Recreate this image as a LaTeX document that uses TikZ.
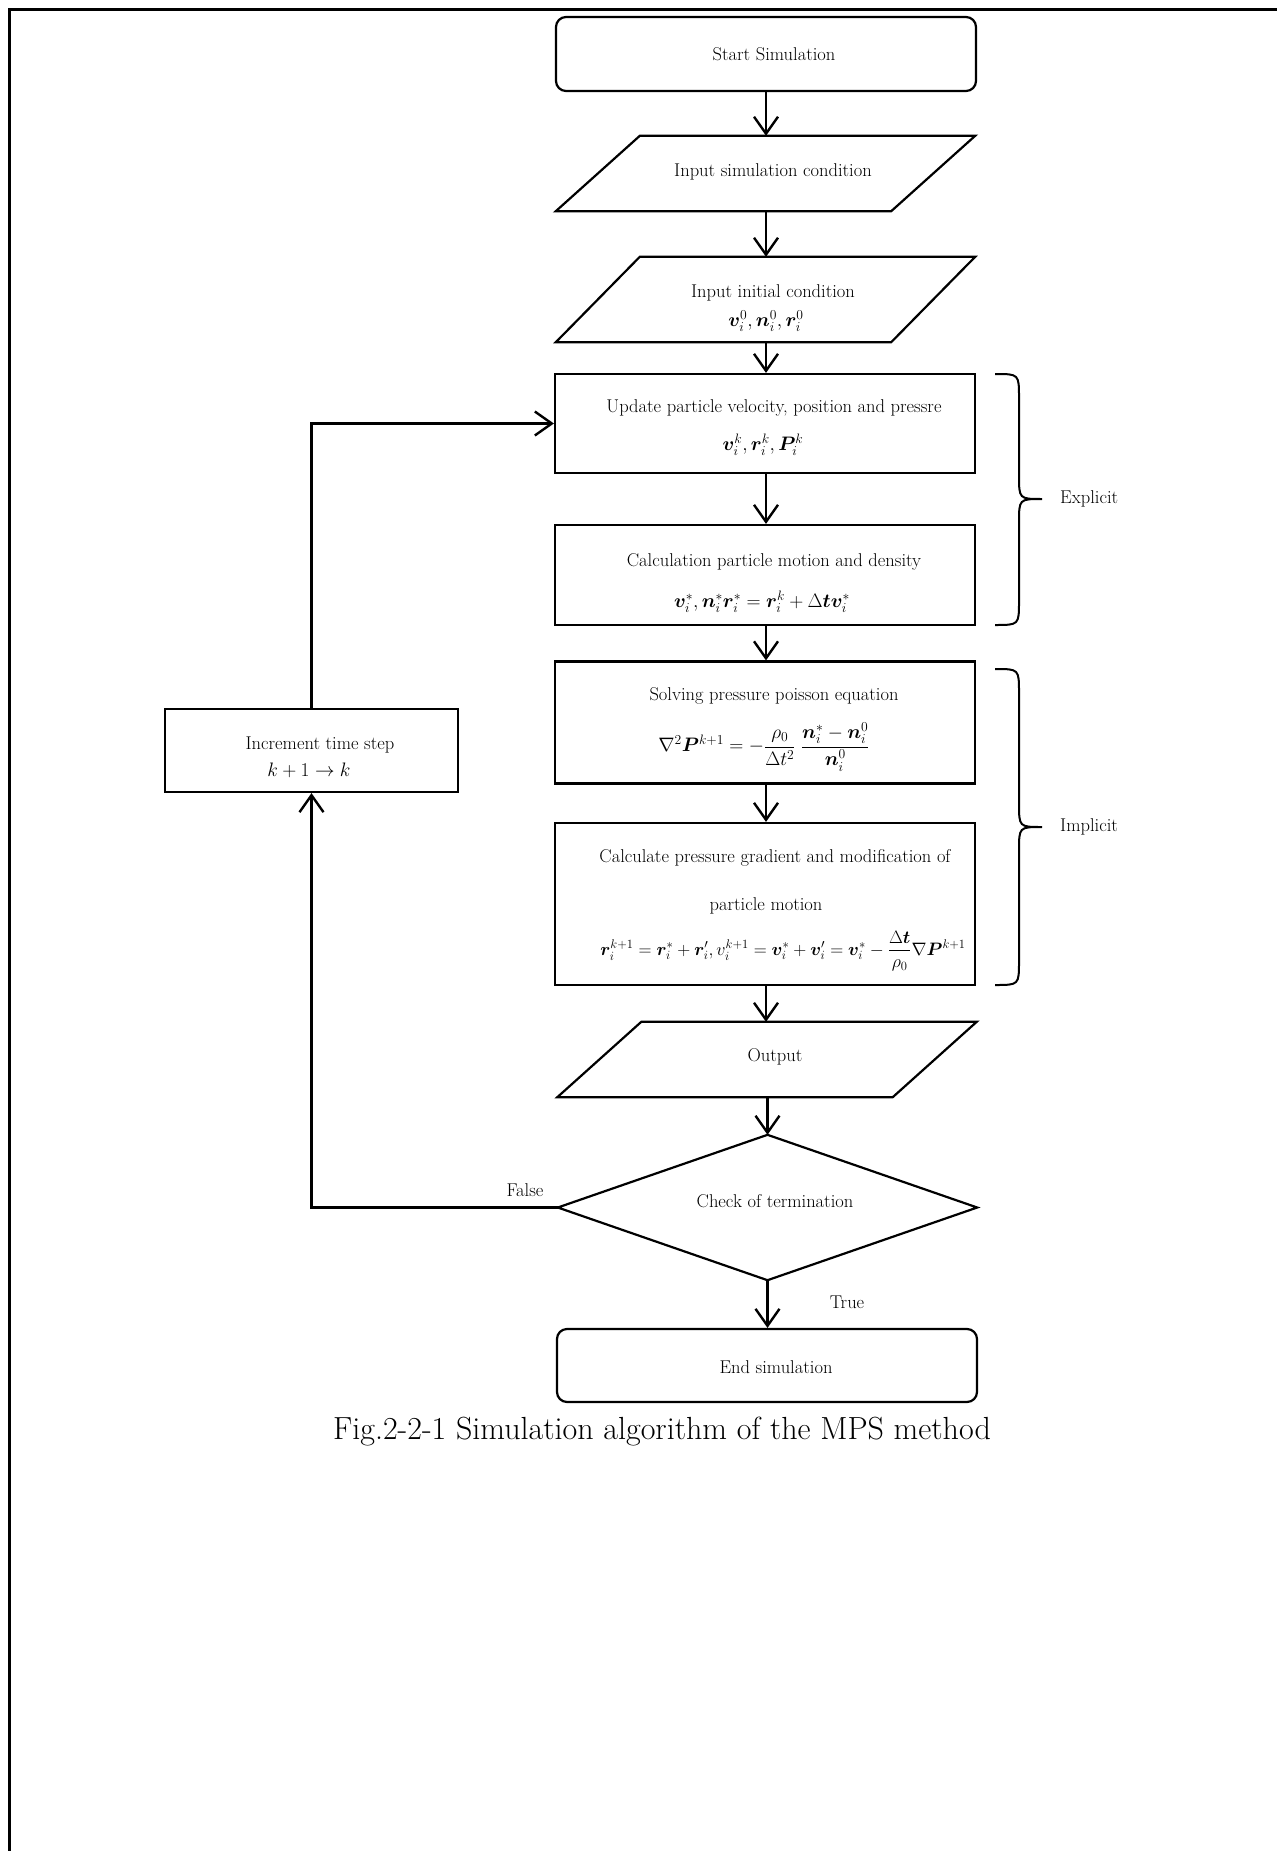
\RequirePackage{fix-cm}
\documentclass[tikz,border=0pt]{standalone}
\usepackage{amsmath,bm}
\usetikzlibrary{arrows.meta}
\begin{document}
\begin{tikzpicture}[x=1pt,y=-1pt,
  frame/.style={line width=3pt},
  shapeline/.style={line width=2.2pt},
  box/.style={draw,shapeline,inner sep=0pt,minimum width=420pt},
  rbox/.style={box,rounded corners=10pt},
  ghost/.style={inner sep=0pt,minimum width=419pt},
  arr/.style={line width=2.4pt,-{Straight Barb[length=17pt,width=24pt,line width=2.4pt]}},
  lbl/.style={inner sep=0pt,font=\fontsize{18.5}{22}\selectfont},
  eq/.style={inner sep=0pt,font=\fontsize{19.5}{23}\selectfont},
  eqsmall/.style={inner sep=0pt,font=\fontsize{18}{22}\selectfont},
  captext/.style={inner sep=0pt,font=\fontsize{32}{38}\selectfont},
  brace/.style={line width=2pt}]
\useasboundingbox (0,0) rectangle (1277,1851);
\fill[white] (0,0) rectangle (1277,1851);

% page frame (top and left edges)
\draw[frame] (9,1851) -- (9,10) -- (1277,10);

% main column
\node[rbox,minimum height=74pt] (start) at (766,54) {};
\node[ghost,minimum height=75pt] (in1) at (765.5,173.5) {};
\node[ghost,minimum height=85pt] (in2) at (765.5,299.5) {};
\node[box,minimum height=99pt] (upd) at (765,423.5) {};
\node[box,minimum height=100pt] (calc) at (765,575) {};
\node[box,minimum height=122pt] (poi) at (765,722.5) {};
\node[box,minimum height=162pt] (grad) at (765,904) {};
\node[ghost,minimum height=75pt] (out) at (767,1059.5) {};
\node[ghost,minimum width=419pt,minimum height=145pt] (dia) at (767.5,1207.5) {};
\node[rbox,minimum height=73pt] (end) at (767,1365.5) {};
\node[box,minimum width=293pt,minimum height=83pt] (inc) at (311.5,750.5) {};

% input / output parallelograms and decision diamond
\foreach \p in {in1,in2,out}{
  \draw[shapeline] (\p.south west) -- ([xshift=84pt]\p.north west) -- (\p.north east)
    -- ([xshift=-84pt]\p.south east) -- cycle;
}
\draw[shapeline] (dia.north) -- (dia.east) -- (dia.south) -- (dia.west) -- cycle;

% texts
\node[lbl] (t1) at (774,54) {Start Simulation};
\node[lbl] (t2) at (773,172) {Input simulation condition};
\node[lbl] (t3) at (773,293) {Input initial condition};
\node[eq] (f3) at (766,321) {$\bm{v}_i^{0},\bm{n}_i^{0},\bm{r}_i^{0}$};
\node[lbl] (t4) at (774,408) {Update particle velocity, position and pressre};
\node[eq] (f4) at (763,445) {$\bm{v}_i^{k},\bm{r}_i^{k},\bm{P}_i^{k}$};
\node[lbl] (t5) at (774,562) {Calculation particle motion and density};
\node[eq] (f5) at (762,602) {$\bm{v}_i^{*},\bm{n}_i^{*}\bm{r}_i^{*}=\bm{r}_i^{k}+\Delta\bm{t}\bm{v}_i^{*}$};
\node[lbl] (t6) at (774,696) {Solving pressure poisson equation};
\node[eq] (f6) at (764,747) {$\nabla^2\bm{P}^{k+1}=-\dfrac{\rho_0}{\Delta t^2}\;\dfrac{\bm{n}_i^{*}-\bm{n}_i^{0}}{\bm{n}_i^{0}}$};
\node[lbl] (t7a) at (775,858) {Calculate pressure gradient and modification of};
\node[lbl] (t7b) at (766,906) {particle motion};
\node[eqsmall] (f7) at (783,951) {$\bm{r}_i^{k+1}=\bm{r}_i^{*}+\bm{r}'_i,v_i^{k+1}=\bm{v}_i^{*}+\bm{v}'_i=\bm{v}_i^{*}-\dfrac{\Delta\bm{t}}{\rho_0}\nabla\bm{P}^{k+1}$};
\node[lbl] (t8) at (775,1057) {Output};
\node[lbl] (t9) at (775,1201) {Check of termination};
\node[lbl] (t10) at (776,1367) {End simulation};
\node[lbl] (t11) at (320,745) {Increment time step};
\node[eq] (f11) at (309,770) {$k+1\rightarrow k$};

% flow connectors
\draw[arr] (start.south) -- (start.south |- in1.north);
\draw[arr] (in1.south -| start.south) -- (start.south |- in2.north);
\draw[arr] (in2.south -| start.south) -- (start.south |- upd.north);
\draw[arr] (upd.south -| start.south) -- (start.south |- calc.north);
\draw[arr] (calc.south -| start.south) -- (start.south |- poi.north);
\draw[arr] (poi.south -| start.south) -- (start.south |- grad.north);
\draw[arr] (grad.south -| start.south) -- (start.south |- out.north);
\draw[arr] (out.south -| dia.north) -- (dia.north);
\draw[arr] (dia.south) -- (dia.south |- end.north);

% loop back
\draw[arr] (dia.west) -| (inc.south);
\draw[arr] (inc.north) |- (upd.west);
\node[lbl] (lf) at (525,1190) {False};
\node[lbl] (lt) at (847,1302) {True};

% braces
\draw[brace] (995,374) .. controls (1019,374) .. (1019,398) -- (1019,475)
  .. controls (1019,499) .. (1042,499) .. controls (1019,499) .. (1019,523)
  -- (1019,601) .. controls (1019,625) .. (995,625);
\node[lbl,anchor=west] (lex) at (1060,499) {Explicit};
\draw[brace] (995,669) .. controls (1019,669) .. (1019,693) -- (1019,803)
  .. controls (1019,827) .. (1042,827) .. controls (1019,827) .. (1019,851)
  -- (1019,961) .. controls (1019,985) .. (995,985);
\node[lbl,anchor=west] (lim) at (1060,827) {Implicit};

% caption
\node[captext] (caption) at (662,1432) {Fig.2-2-1 Simulation algorithm of the MPS method};
\end{tikzpicture}
\end{document}
